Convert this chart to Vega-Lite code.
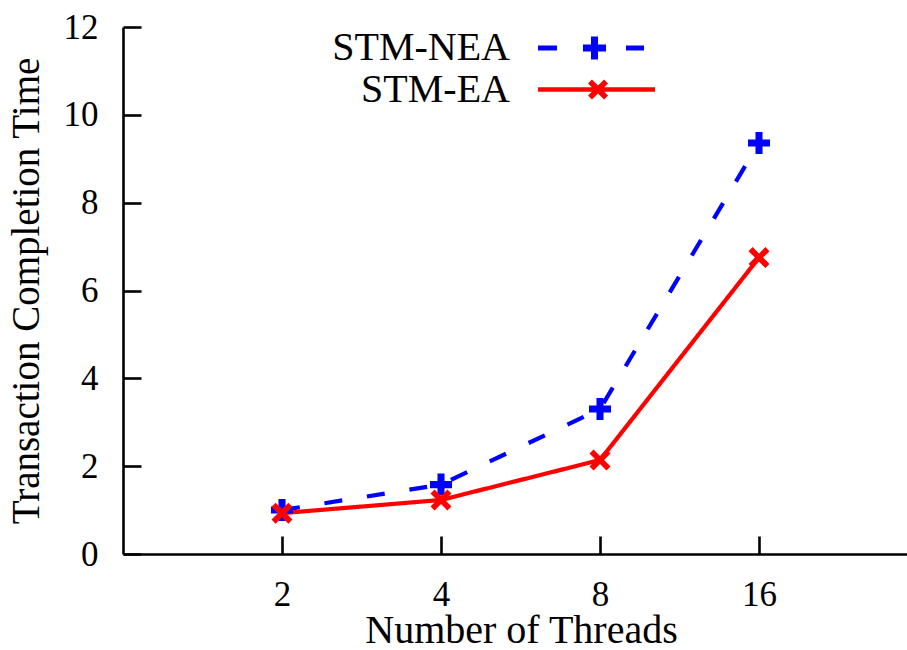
{
  "$schema": "https://vega.github.io/schema/vega-lite/v6.json",
  "autosize": {"type": "none"},
  "padding": {"left": 123, "top": 27, "right": 0, "bottom": 96},
  "width": 784,
  "height": 527,
  "background": "white",
  "config": {
    "view": {"stroke": null},
    "font": "Liberation Serif",
    "axis": {
      "labelFont": "Liberation Serif",
      "titleFont": "Liberation Serif",
      "labelColor": "#000000",
      "titleColor": "#000000",
      "domainColor": "#000000",
      "tickColor": "#000000",
      "domainWidth": 2.6,
      "tickWidth": 2.6,
      "grid": false,
      "titleFontWeight": "normal"
    }
  },
  "data": {
    "values": [
      {"threads": 2, "series": "STM-NEA", "time": 1.0},
      {"threads": 4, "series": "STM-NEA", "time": 1.58},
      {"threads": 8, "series": "STM-NEA", "time": 3.3},
      {"threads": 16, "series": "STM-NEA", "time": 9.36},
      {"threads": 2, "series": "STM-EA", "time": 0.93},
      {"threads": 4, "series": "STM-EA", "time": 1.23},
      {"threads": 8, "series": "STM-EA", "time": 2.14},
      {"threads": 16, "series": "STM-EA", "time": 6.75}
    ]
  },
  "encoding": {
    "x": {
      "field": "threads",
      "type": "quantitative",
      "scale": {"type": "log", "base": 2, "domain": [1, 30.5], "nice": false},
      "axis": {
        "title": "Number of Threads",
        "values": [2, 4, 8, 16],
        "format": "d",
        "tickSize": -18,
        "labelPadding": 41,
        "labelFontSize": 35,
        "titleFontSize": 40,
        "titlePadding": -2,
        "titleX": 398,
        "labelFlush": false,
        "labelOverlap": false
      }
    },
    "y": {
      "field": "time",
      "type": "quantitative",
      "scale": {"domain": [0, 12], "nice": false},
      "axis": {
        "title": "Transaction Completion Time",
        "values": [0, 2, 4, 6, 8, 10, 12],
        "tickSize": -18,
        "labelPadding": 43,
        "labelFontSize": 35,
        "titleFontSize": 39,
        "titlePadding": 17,
        "labelFlush": false,
        "labelOverlap": false
      }
    },
    "color": {
      "field": "series",
      "type": "nominal",
      "scale": {"domain": ["STM-NEA", "STM-EA"], "range": ["#0000ff", "#ff0000"]},
      "legend": {
        "title": null,
        "orient": "none",
        "legendX": 453.5,
        "legendY": 1,
        "padding": 0,
        "offset": 0,
        "rowPadding": 1.5,
        "symbolSize": 1600,
        "symbolStrokeWidth": 0,
        "labelFont": "Liberation Serif",
        "labelFontSize": 40,
        "labelColor": "#000000",
        "labelAlign": "right",
        "labelOffset": -106.5,
        "labelLimit": 0,
        "encode": {
          "symbols": {
            "update": {
              "shape": {"signal": "datum.value === 'STM-NEA' ? 'M-2.925,-0.126H-1.974V0.126H-2.925Z M1.474,-0.126H2.375V0.126H1.474Z M-0.275,-0.576H0.076V-0.176H0.477V0.176H0.076V0.576H-0.275V0.176H-0.676V-0.176H-0.275Z' : 'M-2.925,-0.111H2.925V0.111H-2.925Z M0.076,-0.196L0.38,-0.5L0.576,-0.304L0.272,0L0.576,0.304L0.38,0.5L0.076,0.196L-0.228,0.5L-0.424,0.304L-0.12,0L-0.424,-0.304L-0.228,-0.5Z'"},
              "fill": {"signal": "datum.value === 'STM-NEA' ? '#0000ff' : '#ff0000'"},
              "stroke": {"value": "transparent"},
              "strokeWidth": {"value": 0},
              "strokeDash": {"value": []},
              "opacity": {"value": 1}
            }
          }
        }
      }
    }
  },
  "layer": [
    {
      "mark": {"type": "line", "strokeWidth": 4.2},
      "encoding": {
        "strokeDash": {
          "field": "series",
          "type": "nominal",
          "scale": {"domain": ["STM-NEA", "STM-EA"], "range": [[18, 25], [1, 0]]},
          "legend": null
        }
      }
    },
    {
      "transform": [{"filter": "datum.series === 'STM-NEA'"}],
      "mark": {"type": "point", "filled": true, "size": 484, "opacity": 1, "strokeWidth": 0, "shape": "M-0.32,-1H0.32V-0.32H1V0.32H0.32V1H-0.32V0.32H-1V-0.32H-0.32Z"}
    },
    {
      "transform": [{"filter": "datum.series === 'STM-EA'"}],
      "mark": {"type": "point", "filled": true, "size": 441, "opacity": 1, "strokeWidth": 0, "shape": "M0,-0.39L0.61,-1L1,-0.61L0.39,0L1,0.61L0.61,1L0,0.39L-0.61,1L-1,0.61L-0.39,0L-1,-0.61L-0.61,-1Z"}
    }
  ]
}
